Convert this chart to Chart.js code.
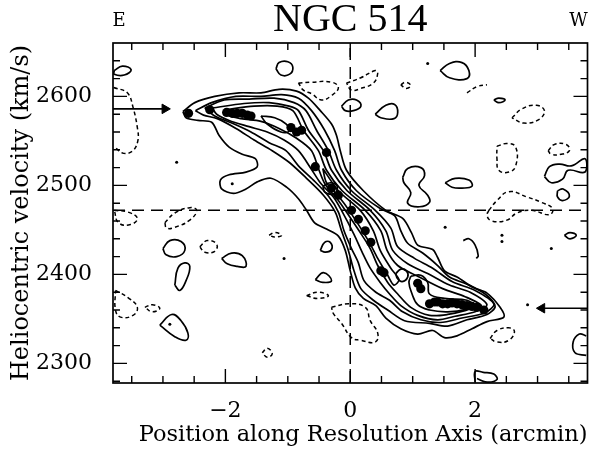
<!DOCTYPE html>
<html>
<head>
<meta charset="utf-8">
<title>NGC 514</title>
<script src="https://cdn.jsdelivr.net/npm/chart.js@4.4.1/dist/chart.umd.min.js"></script>
<style>
  html, body { margin: 0; padding: 0; background: #fff; }
  #wrap { width: 594px; height: 449px; }
</style>
</head>
<body>
<div id="wrap"><canvas id="pv" width="594" height="449"></canvas></div>
<script>
// axes
const xTickValues = [-2, 0, 2];
const xMinorTicks = [-3.5, -3, -2.5, -2, -1.5, -1, -0.5, 0, 0.5, 1, 1.5, 2, 2.5, 3, 3.5];
const yTickValues = [2300, 2400, 2500, 2600];
const yMinorTicks = [2280, 2300, 2320, 2340, 2360, 2380, 2400, 2420, 2440, 2460, 2480,
                     2500, 2520, 2540, 2560, 2580, 2600, 2620, 2640];

// reference lines: systemic velocity and centre
const systemicV = 2472;
const centreX = 0;

// main rotation-curve contours, [arcmin, km/s], outer to inner
const contour1 = [[-2.68,2583],[-2.49,2593],[-2.17,2600],[-1.78,2604],[-1.43,2604],[-1.14,2608],[-0.86,2606],[-0.67,2598],[-0.48,2584],[-0.30,2569],[-0.22,2556],[-0.16,2539],[-0.06,2517],[0.21,2494],[0.57,2472],[0.84,2463],[0.98,2447],[1.08,2433],[1.32,2428],[1.40,2419],[1.51,2404],[1.71,2397],[1.98,2385],[2.19,2379],[2.40,2363],[2.46,2352],
  [2.19,2347],[1.95,2339],[1.71,2331],[1.51,2329],[1.32,2337],[1.08,2333],[0.81,2339],[0.57,2351],[0.41,2365],[0.21,2373],[0.08,2385],[0,2404],[-0.08,2427],[-0.19,2443],[-0.38,2451],[-0.57,2458],[-0.70,2472],[-0.83,2485],[-1.02,2498],[-1.27,2508],[-1.49,2504],[-1.67,2496],[-1.87,2491],[-2.06,2496],[-2.08,2506],[-1.94,2512],[-1.67,2515],[-1.49,2521],[-1.52,2530],[-1.73,2535],[-1.94,2543],[-2.10,2556],[-2.22,2571],[-2.44,2573],[-2.63,2576]];
const contour2 = [[-2.48,2584],[-2.22,2593],[-1.83,2600],[-1.43,2600],[-1.10,2602],[-0.83,2598],[-0.62,2584],[-0.41,2562],[-0.25,2539],[-0.14,2517],[0.10,2494],[0.48,2474],[0.71,2466],[0.81,2449],[0.92,2435],[1.16,2424],[1.40,2410],[1.59,2397],[1.87,2389],[2.16,2378],[2.32,2364],
  [2.19,2355],[1.87,2349],[1.56,2342],[1.27,2345],[0.87,2348],[0.60,2360],[0.37,2371],[0.17,2384],[0.06,2404],[-0.03,2427],[-0.14,2449],[-0.24,2470],[-0.43,2489],[-0.70,2508],[-0.98,2526],[-1.25,2539],[-1.54,2551],[-1.83,2564],[-2.13,2575],[-2.35,2579]];
const contour3 = [[-2.33,2587],[-2.02,2596],[-1.62,2597],[-1.22,2598],[-0.90,2593],[-0.71,2584],[-0.54,2562],[-0.35,2539],[-0.22,2517],[0.02,2494],[0.40,2472],[0.65,2452],[0.76,2431],[1.03,2418],[1.32,2407],[1.63,2392],[2.00,2382],[2.30,2367],
  [2.16,2357],[1.79,2351],[1.44,2346],[1.13,2349],[0.84,2358],[0.63,2371],[0.41,2380],[0.22,2393],[0.13,2413],[0.02,2429],[-0.10,2449],[-0.19,2470],[-0.35,2488],[-0.59,2506],[-0.83,2522],[-1.03,2539],[-1.30,2548],[-1.59,2560],[-1.86,2569],[-2.17,2578]];
const contour4 = [[-2.21,2587],[-1.70,2592],[-1.30,2593],[-0.98,2589],[-0.83,2584],[-0.67,2562],[-0.43,2539],[-0.30,2517],[-0.05,2494],[0.32,2472],[0.57,2449],[0.68,2427],[0.92,2412],[1.24,2401],[1.59,2388],[1.92,2380],[2.19,2366],
  [2.00,2358],[1.68,2353],[1.40,2349],[1.08,2354],[0.81,2365],[0.63,2378],[0.48,2391],[0.32,2407],[0.19,2425],[0.06,2445],[-0.14,2472],[-0.27,2487],[-0.48,2503],[-0.63,2519],[-0.83,2539],[-1.06,2551],[-1.33,2560],[-1.62,2566],[-1.94,2573],[-2.14,2580]];
const contour5 = [[-2.02,2585],[-1.54,2589],[-1.17,2589],[-0.92,2584],[-0.75,2562],[-0.51,2539],[-0.38,2517],[-0.13,2494],[0.24,2472],[0.49,2449],[0.59,2427],[0.76,2410],[1.08,2398],[1.48,2384],[1.84,2375],[2.10,2365],
  [1.87,2360],[1.56,2355],[1.27,2354],[0.97,2363],[0.76,2378],[0.60,2391],[0.44,2410],[0.32,2429],[0.16,2447],[-0.08,2472],[-0.19,2483],[-0.40,2501],[-0.51,2519],[-0.62,2539],[-0.86,2553],[-1.14,2564],[-1.43,2572],[-1.75,2575],[-1.97,2579]];
const contour6 = [[-0.44,2519],[-0.19,2494],[0.16,2472],[0.37,2449],[0.48,2427],[0.65,2407],[0.78,2394],
  [0.70,2388],[0.60,2399],[0.44,2418],[0.29,2438],[0,2470],[-0.19,2488],[-0.38,2503]];
const innerLoops = [
  [[-1.43,2578],[-1.21,2576],[-1.03,2569],[-0.98,2561],[-1.11,2560],[-1.33,2569]],
  [[-0.44,2499],[-0.32,2503],[-0.21,2499],[-0.25,2491],[-0.40,2492]],
  [[0.73,2401],[0.81,2406],[0.90,2404],[0.92,2397],[0.83,2392],[0.75,2396]],
  [[0.97,2398],[1.13,2399],[1.24,2391],[1.27,2378],[1.51,2373],[1.87,2371],[1.97,2365],[1.87,2361],[1.56,2358],[1.27,2360],[1.08,2366],[0.98,2380],[0.94,2391]]
];

// isolated positive (solid) and negative (dashed) contours
const solidBlobs = [
  [[-1.19,2631],[-1.14,2638],[-1.00,2639],[-0.92,2633],[-0.97,2625],[-1.11,2624]],
  [[-3.78,2629],[-3.65,2634],[-3.51,2630],[-3.62,2624],[-3.78,2625]],
  [[-0.14,2589],[-0.03,2596],[0.10,2596],[0.17,2589],[0.05,2584],[-0.08,2584]],
  [[0.40,2580],[0.57,2590],[0.71,2591],[0.76,2582],[0.70,2575],[0.49,2576]],
  [[1.44,2629],[1.59,2637],[1.79,2638],[1.90,2629],[1.87,2620],[1.59,2621]],
  [[2.30,2596],[2.38,2598],[2.48,2596],[2.38,2593]],
  [[0.84,2509],[0.92,2519],[1.13,2520],[1.19,2511],[1.10,2500],[1.24,2489],[1.27,2481],[1.11,2476],[0.92,2480],[0.97,2492],[0.86,2503]],
  [[1.52,2503],[1.68,2508],[1.90,2506],[1.95,2499],[1.79,2497],[1.63,2498]],
  [[3.11,2510],[3.19,2521],[3.35,2524],[3.54,2522],[3.76,2530],[3.76,2515],[3.49,2517],[3.40,2507],[3.22,2503]],
  [[3.32,2494],[3.41,2496],[3.51,2488],[3.40,2483],[3.32,2487]],
  [[3.43,2444],[3.52,2447],[3.62,2444],[3.52,2440]],
  [[-3.00,2429],[-2.89,2438],[-2.71,2437],[-2.65,2427],[-2.78,2420],[-2.95,2422]],
  [[-2.06,2418],[-1.90,2424],[-1.73,2421],[-1.67,2409],[-1.81,2409],[-1.97,2412]],
  [[-2.81,2388],[-2.76,2407],[-2.65,2413],[-2.57,2409],[-2.63,2393],[-2.73,2382]],
  [[-0.48,2427],[-0.41,2436],[-0.32,2436],[-0.30,2428],[-0.40,2425]],
  [[-0.56,2394],[-0.43,2402],[-0.30,2393],[-0.44,2391]],
  [[-3.05,2343],[-2.86,2355],[-2.71,2348],[-2.60,2334],[-2.63,2326],[-2.81,2330]]
];
const solidOpen = [
  [[1.81,2438],[1.90,2440],[2.00,2433],[2.05,2421],[2.02,2418]],
  [[3.78,2331],[3.67,2333],[3.57,2324],[3.60,2312],[3.78,2309]],
  [[2.00,2279],[2.00,2291],[2.13,2290],[2.30,2288],[2.35,2282],[2.19,2279],[2.03,2283]]
];
const dashedBlobs = [
  [[-0.83,2615],[-0.62,2616],[-0.30,2616],[-0.19,2610],[-0.30,2601],[-0.46,2596],[-0.62,2603],[-0.75,2607]],
  [[-0.06,2615],[0.17,2621],[0.40,2629],[0.44,2626],[0.37,2615],[0.17,2609],[0.02,2607]],
  [[0.81,2613],[0.89,2616],[0.97,2612],[0.89,2609]],
  [[2.59,2576],[2.75,2586],[2.98,2590],[3.11,2584],[3.02,2574],[2.78,2570]],
  [[2.35,2544],[2.51,2547],[2.65,2543],[2.65,2522],[2.54,2515],[2.38,2517],[2.35,2530]],
  [[3.17,2539],[3.27,2546],[3.46,2546],[3.51,2539],[3.38,2535],[3.22,2535]],
  [[2.22,2472],[2.35,2483],[2.54,2493],[2.83,2487],[3.06,2481],[3.24,2474],[3.19,2467],[2.90,2472],[2.67,2469],[2.51,2461],[2.27,2460],[2.19,2466]],
  [[-3.78,2472],[-3.56,2470],[-3.41,2463],[-3.52,2456],[-3.71,2458]],
  [[-2.97,2458],[-2.81,2469],[-2.57,2475],[-2.46,2472],[-2.57,2461],[-2.81,2453],[-2.94,2452]],
  [[-2.41,2431],[-2.29,2438],[-2.14,2434],[-2.17,2426],[-2.33,2425]],
  [[-1.30,2444],[-1.21,2447],[-1.10,2444],[-1.21,2442]],
  [[-0.70,2376],[-0.52,2380],[-0.35,2376],[-0.52,2373]],
  [[-0.30,2363],[-0.03,2367],[0.24,2363],[0.32,2348],[0.44,2334],[0.40,2324],[0.17,2326],[0.02,2329],[-0.14,2345],[-0.27,2356]],
  [[-3.76,2382],[-3.56,2374],[-3.41,2363],[-3.48,2354],[-3.68,2352],[-3.76,2360]],
  [[-3.29,2363],[-3.17,2366],[-3.05,2362],[-3.17,2358]],
  [[-1.41,2312],[-1.33,2317],[-1.25,2311],[-1.33,2307]],
  [[2.24,2328],[2.35,2337],[2.54,2340],[2.63,2336],[2.54,2326],[2.35,2324]]
];
const dashedOpen = [
  [[1.87,2604],[2.03,2611],[2.19,2613]],
  [[-3.79,2610],[-3.57,2604],[-3.48,2588],[-3.41,2565],[-3.40,2551],[-3.48,2539],[-3.63,2536],[-3.76,2542]]
];

// optical velocity points along the ridge
const ridgePoints = [[-2.59,2581],[-2.25,2585],[-1.98,2582],[-1.89,2581],[-1.81,2581],[-1.73,2581],[-1.65,2579],[-1.59,2578],
  [-0.95,2565],[-0.86,2560],[-0.78,2562],[-0.38,2537],[-0.56,2521],[-0.30,2497],[-0.19,2489],[0.02,2472],[0.13,2462],
  [0.24,2449],[0.33,2436],[0.49,2404],[0.54,2402],[1.08,2390],[1.13,2384],[1.27,2367],[1.35,2369],[1.40,2369],[1.48,2367],
  [1.56,2367],[1.63,2368],[1.71,2367],[1.79,2366],[1.87,2365],[1.95,2364],[2.03,2363],[2.14,2360]];
const specks = [[-2.78,2526],[-1.06,2418],[1.52,2453],[2.43,2444],[2.43,2437],[3.22,2429],[-1.89,2502],[-2.89,2344],[1.24,2637],[2.84,2366]];

// arrows at the edges (E and W ends)
const arrowEast = [[-3.8,2586],[-2.97,2586]];
const arrowWest = [[3.8,2362],[3.07,2362]];

const xMin = -3.8, xMax = 3.8, yMin = 2278, yMax = 2660;

const datasets = [];
const toXY = arr => arr.map(([x, y]) => ({x, y}));

function addCurve(pts, closed, dashed, tension) {
  const list = closed ? pts.concat([pts[0]]) : pts;
  datasets.push({
    data: toXY(list),
    showLine: true,
    borderColor: '#000',
    borderWidth: dashed ? 1.5 : 1.7,
    borderDash: dashed ? [4, 3] : [],
    pointRadius: 0,
    tension: tension,
    fill: false
  });
}

[contour1, contour2, contour3, contour4, contour5, contour6].forEach(c => addCurve(c, true, false, 0.3));
innerLoops.forEach(c => addCurve(c, true, false, 0.4));
solidBlobs.forEach(c => addCurve(c, true, false, 0.45));
solidOpen.forEach(c => addCurve(c, false, false, 0.4));
dashedBlobs.forEach(c => addCurve(c, true, true, 0.45));
dashedOpen.forEach(c => addCurve(c, false, true, 0.4));

// systemic velocity / centre lines
datasets.push({
  data: toXY([[xMin, systemicV], [xMax, systemicV]]),
  showLine: true, borderColor: '#000', borderWidth: 1.5, borderDash: [12, 7], pointRadius: 0
});
datasets.push({
  data: toXY([[centreX, yMin], [centreX, yMax]]),
  showLine: true, borderColor: '#000', borderWidth: 1.5, borderDash: [12, 7], pointRadius: 0
});

datasets.push({
  data: toXY(ridgePoints), showLine: false,
  pointRadius: 4.6, pointBackgroundColor: '#000', pointBorderWidth: 0
});
datasets.push({
  data: toXY(specks), showLine: false,
  pointRadius: 1.5, pointBackgroundColor: '#000', pointBorderWidth: 0
});

[[arrowEast, 90], [arrowWest, -90]].forEach(([a, rot]) => {
  datasets.push({
    data: toXY(a), showLine: true, borderColor: '#000', borderWidth: 1.6,
    pointRadius: [0, 5.5], pointStyle: 'triangle', pointRotation: rot,
    pointBackgroundColor: '#000', pointBorderColor: '#000', pointBorderWidth: 1
  });
});

const frameTicks = {
  id: 'frameTicks',
  afterDatasetsDraw(chart) {
    const {ctx, chartArea: a, scales: {x, y}} = chart;
    ctx.save();
    ctx.strokeStyle = '#000';
    ctx.lineWidth = 1.7;
    ctx.strokeRect(a.left, a.top, a.right - a.left, a.bottom - a.top);
    ctx.beginPath();
    xMinorTicks.forEach(v => {
      const p = x.getPixelForValue(v);
      const len = xTickValues.includes(v) ? 14 : 7;
      ctx.moveTo(p, a.bottom); ctx.lineTo(p, a.bottom - len);
      ctx.moveTo(p, a.top); ctx.lineTo(p, a.top + len);
    });
    yMinorTicks.forEach(v => {
      const p = y.getPixelForValue(v);
      const len = yTickValues.includes(v) ? 14 : 7;
      ctx.moveTo(a.left, p); ctx.lineTo(a.left + len, p);
      ctx.moveTo(a.right, p); ctx.lineTo(a.right - len, p);
    });
    ctx.lineWidth = 1.4;
    ctx.stroke();
    // title and the E / W labels above the frame
    ctx.fillStyle = '#000';
    ctx.textAlign = 'center';
    ctx.textBaseline = 'middle';
    ctx.font = '40px "Liberation Serif"';
    ctx.fillText('NGC 514', (a.left + a.right) / 2, 20);
    ctx.font = '18px "DejaVu Serif"';
    ctx.fillText('E', a.left + 6, 21);
    ctx.fillText('W', a.right - 9, 21);
    ctx.restore();
  }
};

new Chart(document.getElementById('pv'), {
  type: 'scatter',
  data: { datasets },
  options: {
    responsive: false,
    animation: false,
    devicePixelRatio: 1,
    layout: { padding: { left: 0, right: 5, top: 43, bottom: 0 } },
    plugins: {
      legend: { display: false },
      tooltip: { enabled: false },
      title: { display: false }
    },
    scales: {
      x: {
        type: 'linear', min: xMin, max: xMax,
        grid: { display: false },
        border: { display: false },
        afterBuildTicks: s => { s.ticks = xTickValues.map(value => ({ value })); },
        afterFit: s => { s.height = 66; },
        ticks: {
          color: '#000', padding: 7, maxRotation: 0,
          font: { family: 'DejaVu Serif', size: 22 },
          callback: v => (v < 0 ? '\u2212' + Math.abs(v) : String(v))
        },
        title: {
          display: true, align: 'end', text: 'Position along Resolution Axis (arcmin)', color: '#000',
          font: { family: 'DejaVu Serif', size: 22.5 }, padding: { top: 0, bottom: 0 }
        }
      },
      y: {
        type: 'linear', min: yMin, max: yMax,
        grid: { display: false },
        border: { display: false },
        afterBuildTicks: s => { s.ticks = yTickValues.map(value => ({ value })); },
        afterFit: s => { s.width = 113; },
        ticks: {
          color: '#000', padding: 13,
          font: { family: 'DejaVu Serif', size: 22 },
          callback: v => String(v)
        },
        title: {
          display: true, text: 'Heliocentric velocity (km/s)', color: '#000',
          font: { family: 'DejaVu Serif', size: 24 }, padding: { top: 7, bottom: 0 }
        }
      }
    }
  },
  plugins: [frameTicks]
});
</script>
</body>
</html>
